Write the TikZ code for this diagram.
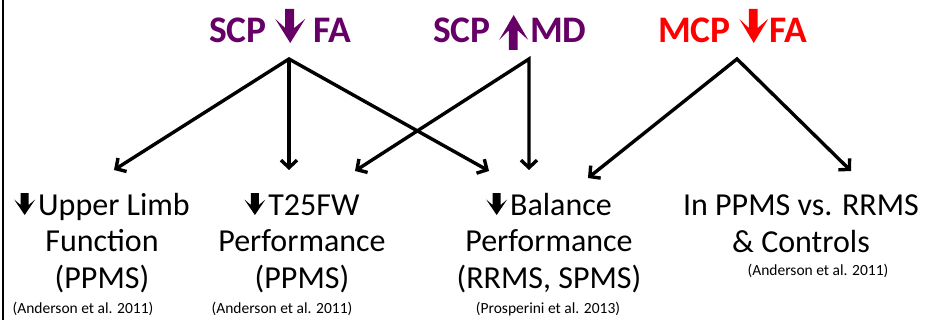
\documentclass[tikz,border=0pt]{standalone}
\usepackage{fontspec}
\setmainfont{Carlito}
\usetikzlibrary{arrows.meta}
\definecolor{plum}{RGB}{102,0,102}
\definecolor{brightred}{RGB}{255,0,0}
% block arrows: #1 width, #2 height, #3 colour
\newcommand\blkdn[3]{\tikz[x=1pt,y=1pt,baseline=0pt]\fill[#3] (0.333*#1,#2) -- (0.633*#1,#2) -- (0.633*#1,0.44*#2) -- (#1,0.71*#2) -- (0.5*#1,0) -- (0,0.71*#2) -- (0.333*#1,0.44*#2) -- cycle;}
\newcommand\blkup[3]{\tikz[x=1pt,y=1pt,baseline=7pt]\fill[#3] (0.333*#1,0) -- (0.633*#1,0) -- (0.633*#1,0.56*#2) -- (#1,0.29*#2) -- (0.5*#1,#2) -- (0,0.29*#2) -- (0.333*#1,0.56*#2) -- cycle;}
\newcommand\smalldn{\tikz[x=1pt,y=1pt,baseline=0pt]\fill[black] (6.5,22) -- (14.5,22) -- (14.5,10) -- (21,15.5) -- (10.5,0) -- (0,15.5) -- (6.5,10) -- cycle;}
\begin{document}
\begin{tikzpicture}[x=1pt,y=-1pt,
  title/.style={anchor=base west,inner sep=0pt,font=\fontsize{37.5}{40}\selectfont\bfseries},
  body/.style={anchor=base,inner sep=0pt,align=center,font=\fontsize{32}{36.5}\selectfont},
  cite/.style={anchor=base,inner sep=0pt,font=\fontsize{15.5}{18}\selectfont},
  conn/.style={line width=3.4pt,line join=miter},
  >={Straight Barb[length=7.5pt,width=16pt]},
]
\useasboundingbox (0,0) rectangle (941,320);
\fill[white] (0,0) rectangle (941,320);
\draw[line width=2.5pt] (3,0) -- (3,320);

% titles
\node[title,text=plum] (t1) at (209,43) {SCP \blkdn{30}{34}{plum} FA};
\node[title,text=plum] (t2) at (433,43) {SCP \blkup{29}{35}{plum}\hspace{2pt}MD};
\node[title,text=brightred] (t3) at (658,43) {MCP \blkdn{29}{34}{brightred}\hspace{1pt}FA};

% outcomes (base anchor = last line)
\node[body] (b1) at (102,288) {\smalldn\hspace{3pt}Upper Limb\\Function\\(PPMS)};
\node[body] (b2) at (302,288) {\smalldn\hspace{3pt}T25FW\\Performance\\(PPMS)};
\node[body] (b3) at (549,288) {\smalldn\hspace{3pt}Balance\\Performance\\(RRMS, SPMS)};
\node[body] (b4) at (801,252) {In PPMS vs. RRMS\\\& Controls};

\node[cite] (c1) at (83,313) {(Anderson et al. 2011)};
\node[cite] (c2) at (282,313) {(Anderson et al. 2011)};
\node[cite] (c3) at (548,313) {(Prosperini et al. 2013)};
\node[cite] (c4) at (818,275) {(Anderson et al. 2011)};

% connector end points
\coordinate (s1) at (289,59);
\coordinate (s2) at (529,59);
\coordinate (s3) at (737,59);
\coordinate (e11) at (114,170);
\coordinate (e12) at (289,170);
\coordinate (e13) at (489,171);
\coordinate (e22) at (355,171);
\coordinate (e23) at (529,170);
\coordinate (e33) at (588,178);
\coordinate (e34) at (851,171);

\draw[conn,<->] (e11) -- (s1) -- (e13);
\draw[conn,->] (s1) -- (e12);
\draw[conn,<->] (e22) -- (s2) -- (e23);
\draw[conn,<->] (e33) -- (s3) -- (e34);
\end{tikzpicture}
\end{document}
